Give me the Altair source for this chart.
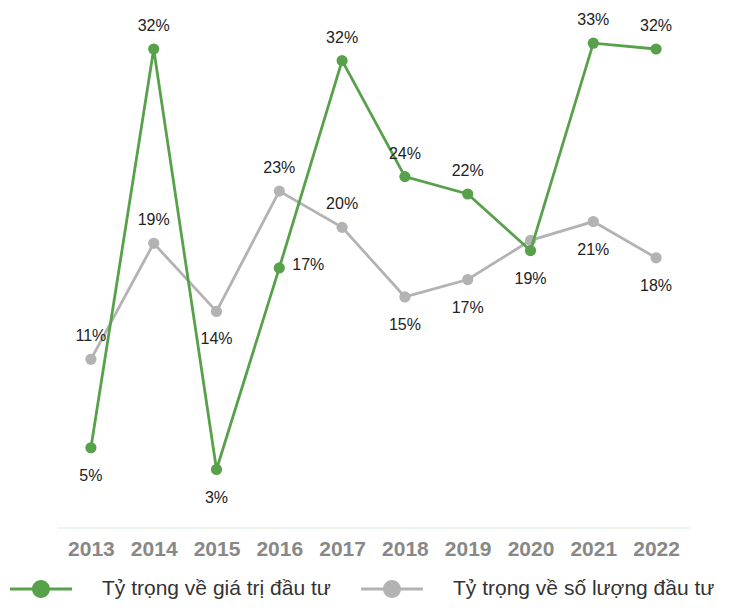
import altair as alt
import pandas as pd

years = ["2013", "2014", "2015", "2016", "2017", "2018", "2019", "2020", "2021", "2022"]
value_share = [4.5, 32.0, 3.0, 16.9, 31.2, 23.2, 22.0, 18.1, 32.4, 32.0]
count_share = [10.6, 18.6, 13.9, 22.2, 19.7, 14.9, 16.1, 18.8, 20.1, 17.6]
value_labels = ["5%", "32%", "3%", "17%", "32%", "24%", "22%", "19%", "33%", "32%"]
count_labels = ["11%", "19%", "14%", "23%", "20%", "15%", "17%", "", "21%", "18%"]
value_label_side = ["below", "above", "below", "right", "above", "above", "above", "below", "above", "above"]
count_label_side = ["above", "above", "below", "above", "above", "below", "below", "none", "below", "below"]

series_names = ["Tỷ trọng về giá trị đầu tư", "Tỷ trọng về số lượng đầu tư"]
series_colors = ["#58a14b", "#b3b3b3"]

rows = []
for i, y in enumerate(years):
    rows.append({"year": y, "series": series_names[0], "v": value_share[i],
                 "lab": value_labels[i], "side": value_label_side[i]})
for i, y in enumerate(years):
    rows.append({"year": y, "series": series_names[1], "v": count_share[i],
                 "lab": count_labels[i], "side": count_label_side[i]})
df = pd.DataFrame(rows)

x = alt.X("year:N", sort=years,
          scale=alt.Scale(type="point", padding=0.54),
          axis=alt.Axis(title=None, ticks=False, labelAngle=0, labelFontSize=21,
                        labelFontWeight="bold", labelColor="#888888",
                        labelFont="Liberation Sans", labelPadding=11,
                        domainColor="#d9ecd9", domainWidth=1))
y = alt.Y("v:Q", scale=alt.Scale(domain=[-1, 34], nice=False, zero=False), axis=None)

legend_path = ("M-1,-0.048 H1 V0.048 H-1 Z "
               "M-0.29,0 A0.29,0.29 0 1,1 0.29,0 A0.29,0.29 0 1,1 -0.29,0 Z")

color = alt.Color("series:N", sort=series_names,
                  scale=alt.Scale(domain=series_names, range=series_colors),
                  legend=alt.Legend(title=None, orient="none", legendX=-47, legendY=538,
                                    direction="horizontal", symbolType=legend_path,
                                    symbolSize=3844, symbolStrokeWidth=0,
                                    labelFontSize=21, labelColor="#333333",
                                    labelFont="Liberation Sans", labelOffset=30,
                                    columnPadding=30, labelLimit=400))

base = alt.Chart(df)
gray = base.transform_filter(alt.datum.series == series_names[1])
green = base.transform_filter(alt.datum.series == series_names[0])

gray_line = gray.mark_line(strokeWidth=2.8).encode(x=x, y=y, color=color)
green_line = green.mark_line(strokeWidth=2.8).encode(x=x, y=y, color=color)
gray_pts = gray.mark_point(filled=True, size=125, opacity=1).encode(x=x, y=y, color=color)
green_pts = green.mark_point(filled=True, size=125, opacity=1).encode(x=x, y=y, color=color)

def labels(side, dx, dy):
    return base.transform_filter(alt.datum.side == side).mark_text(
        fontSize=16, font="Liberation Sans", color="#222222", dx=dx, dy=dy).encode(
        x=x, y=y, text="lab:N")

chart = alt.layer(
    gray_line, gray_pts, green_line, green_pts,
    labels("above", 0, -23), labels("below", 0, 28), labels("right", 29, -3)
).properties(
    width=633, height=507.5,
    autosize=alt.AutoSizeParams(type="none"),
    padding={"left": 49, "top": 12, "right": 37, "bottom": 76.5}
).configure_view(stroke=None)

chart.save("out.html", embed_options={"renderer": "svg", "actions": False})
